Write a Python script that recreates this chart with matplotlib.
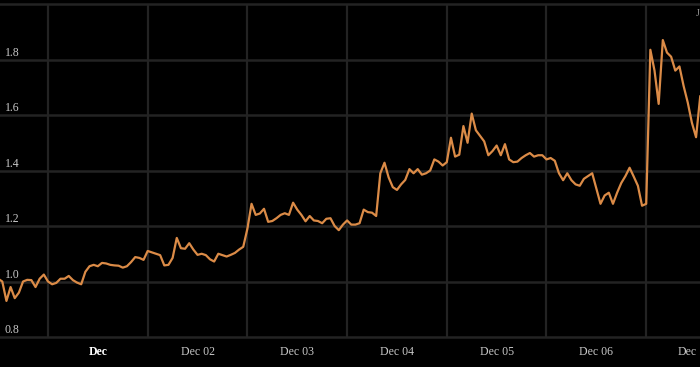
import numpy as np
import matplotlib
matplotlib.use("Agg")
from matplotlib import pyplot as plt

# hours after Dec 01 00:00, one reading per hour
hours = np.arange(-12, 158)

values = [
    1.01, 1.00, 0.93, 0.98, 0.94, 0.96, 1.00, 1.006, 1.005, 0.98, 1.01, 1.025,
    1.00, 0.99, 0.995, 1.01, 1.01, 1.02, 1.005, 0.996, 0.99, 1.035, 1.055, 1.06,
    1.055, 1.067, 1.065, 1.06, 1.058, 1.057, 1.05, 1.055, 1.07, 1.088, 1.085, 1.078,
    1.11, 1.105, 1.10, 1.095, 1.058, 1.06, 1.085, 1.157, 1.12, 1.118, 1.138, 1.115,
    1.096, 1.10, 1.095, 1.08, 1.072, 1.10, 1.095, 1.09, 1.096, 1.103, 1.115, 1.125,
    1.19, 1.28, 1.24, 1.245, 1.262, 1.215, 1.218, 1.228, 1.24, 1.246, 1.24, 1.284,
    1.259, 1.24, 1.217, 1.236, 1.22, 1.218, 1.21, 1.226, 1.228, 1.20, 1.185, 1.205,
    1.22, 1.205, 1.205, 1.21, 1.259, 1.25, 1.248, 1.236, 1.39, 1.428, 1.375, 1.34,
    1.33, 1.35, 1.366, 1.405, 1.39, 1.405, 1.385, 1.39, 1.40, 1.44, 1.432, 1.418,
    1.43, 1.518, 1.45, 1.457, 1.56, 1.50, 1.605, 1.545, 1.525, 1.505, 1.455, 1.47,
    1.49, 1.455, 1.495, 1.44, 1.43, 1.432, 1.445, 1.455, 1.463, 1.45, 1.455, 1.455,
    1.44, 1.445, 1.435, 1.39, 1.365, 1.39, 1.365, 1.35, 1.345, 1.37, 1.38, 1.39,
    1.335, 1.28, 1.31, 1.32, 1.28, 1.32, 1.355, 1.38, 1.41, 1.378, 1.345, 1.273,
    1.28, 1.835, 1.76, 1.64, 1.87, 1.825, 1.81, 1.76, 1.775, 1.705, 1.645, 1.572,
    1.52, 1.667,
]

# last label is cut by the right edge in the original, only "Dec" shows
day_labels = ["Dec", "Dec 02", "Dec 03", "Dec 04", "Dec 05", "Dec 06", "Dec"]
y_levels = [0.8, 1.0, 1.2, 1.4, 1.6, 1.8, 2.0]

bg = "#000000"
grid_col = "#232323"
line_col = "#db8b47"
txt_col = "#c8c8c8"

fig = plt.figure(figsize=(7.0, 3.67), dpi=100, facecolor=bg)
ax = fig.add_axes([0, 1 - 337 / 367, 1, 333 / 367])
ax.set_facecolor(bg)
ax.set_xlim(-11.55, 156.95)
ax.set_ylim(0.8, 2.0)
for s in ax.spines.values():
    s.set_visible(False)
ax.set_xticks([])
ax.set_yticks([])

for y in y_levels:
    ax.axhline(y, color=grid_col, lw=1.8, clip_on=False, zorder=1)
for i in range(len(day_labels)):
    ax.axvline(24 * i, color=grid_col, lw=1.6, zorder=1)

ax.plot(hours, values, color=line_col, lw=1.6, zorder=3, solid_joinstyle="round")

font = "Liberation Serif"
for y in y_levels[:-1]:
    ax.text(-10.4, y + 0.002, f"{y:.1f}", color=txt_col, fontsize=8.5,
            family=font, ha="left", va="bottom", zorder=4)

for i, lab in enumerate(day_labels[:-1]):
    ax.text(24 * i + 12, 0.745, lab, color="white" if i == 0 else txt_col,
            fontsize=8.5, family=font, fontweight="bold" if i == 0 else "normal",
            ha="center", va="center", clip_on=False)
ax.text(151.6, 0.745, day_labels[-1], color=txt_col, fontsize=8.5, family=font,
        ha="left", va="center", clip_on=False)

fig.text(0.994, 0.962, "J", color="#9a9a9a", fontsize=7, family=font,
         ha="left", va="center")

fig.savefig("out.png", dpi=100, facecolor=bg)
